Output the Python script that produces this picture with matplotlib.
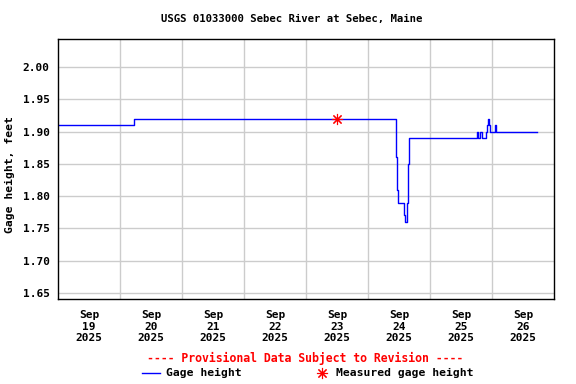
import matplotlib
matplotlib.use("Agg")
import matplotlib.pyplot as plt
import pandas as pd
from matplotlib.lines import Line2D

# step data (value holds until next timestamp)
times = [
    "2025-09-19 00:00", "2025-09-20 05:15", "2025-09-24 11:00", "2025-09-24 11:15",
    "2025-09-24 11:30", "2025-09-24 14:00", "2025-09-24 14:30", "2025-09-24 15:15",
    "2025-09-24 15:30", "2025-09-24 15:45", "2025-09-25 18:15", "2025-09-25 18:45",
    "2025-09-25 19:15", "2025-09-25 20:00", "2025-09-25 21:30", "2025-09-25 22:00",
    "2025-09-25 22:30", "2025-09-25 22:45", "2025-09-25 23:15", "2025-09-26 01:15",
    "2025-09-26 01:30", "2025-09-26 17:15",
]
gage = [
    1.91, 1.92, 1.86, 1.81,
    1.79, 1.77, 1.76, 1.79,
    1.85, 1.89, 1.90, 1.89,
    1.90, 1.89, 1.90, 1.91,
    1.92, 1.91, 1.90, 1.91,
    1.90, 1.90,
]
measured_time = ["2025-09-23 12:00"]
measured_value = [1.92]

day_labels = ["19", "20", "21", "22", "23", "24", "25", "26"]
y_ticks = [1.65, 1.70, 1.75, 1.80, 1.85, 1.90, 1.95, 2.00]

t = pd.to_datetime(times)
tm = pd.to_datetime(measured_time)

plt.rcParams["font.family"] = "DejaVu Sans Mono"
plt.rcParams["font.weight"] = "bold"

fig = plt.figure(figsize=(5.76, 3.84), dpi=100, facecolor="white")
ax = fig.add_axes([58 / 576, 1 - 299 / 384, 496 / 576, 260 / 384])

ax.plot(t, gage, color="#0000ff", lw=1.0, drawstyle="steps-post")
ax.plot(tm, measured_value, ls="none", marker=(8, 2, 0), ms=8, mew=0.8, color="#ff0000")

start = pd.Timestamp("2025-09-19")
ax.set_xlim(start, start + pd.Timedelta(days=8))
ax.set_ylim(1.6407, 2.0433)

noon = [start + pd.Timedelta(hours=12 + 24 * i) for i in range(8)]
ax.set_xticks(noon)
ax.set_xticklabels([f"Sep\n{d}\n2025" for d in day_labels], fontsize=8, fontweight="bold", linespacing=1.2)
midnights = [start + pd.Timedelta(days=i) for i in range(1, 8)]
ax.set_xticks(midnights, minor=True)
ax.set_yticks(y_ticks)
ax.set_yticklabels([f"{v:.2f}" for v in y_ticks], fontsize=8, fontweight="bold")
ax.tick_params(axis="both", which="both", length=0, pad=6)
ax.tick_params(axis="x", which="major", pad=8)

ax.grid(True, axis="y", color="#cccccc", lw=1)
ax.grid(True, axis="x", which="minor", color="#cccccc", lw=1)
ax.grid(False, axis="x", which="major")
ax.set_axisbelow(True)
for s in ax.spines.values():
    s.set_linewidth(1)
    s.set_color("black")

ax.set_ylabel("Gage height, feet", fontsize=8.2, fontweight="bold")
ax.yaxis.set_label_coords(-0.0857, 0.477)

fig.text(292 / 576, 1 - 19 / 384, "USGS 01033000 Sebec River at Sebec, Maine",
         ha="center", va="center", fontsize=7.7, fontweight="bold")
fig.text(305 / 576, 1 - 358 / 384, "---- Provisional Data Subject to Revision ----",
         ha="center", va="center", fontsize=8.3, fontweight="bold", color="#ff0000")

ly = 1 - 373 / 384
fig.add_artist(Line2D([142 / 576, 160 / 576], [ly, ly], color="#0000ff", lw=1))
fig.text(165.5 / 576, ly, "Gage height", ha="left", va="center", fontsize=8.2, fontweight="bold")
fig.add_artist(Line2D([322 / 576], [ly], ls="none", marker=(8, 2, 0), ms=8, mew=0.8, color="#ff0000"))
fig.text(336.5 / 576, ly, "Measured gage height", ha="left", va="center", fontsize=8.2, fontweight="bold")

fig.savefig("out.png", dpi=100)
